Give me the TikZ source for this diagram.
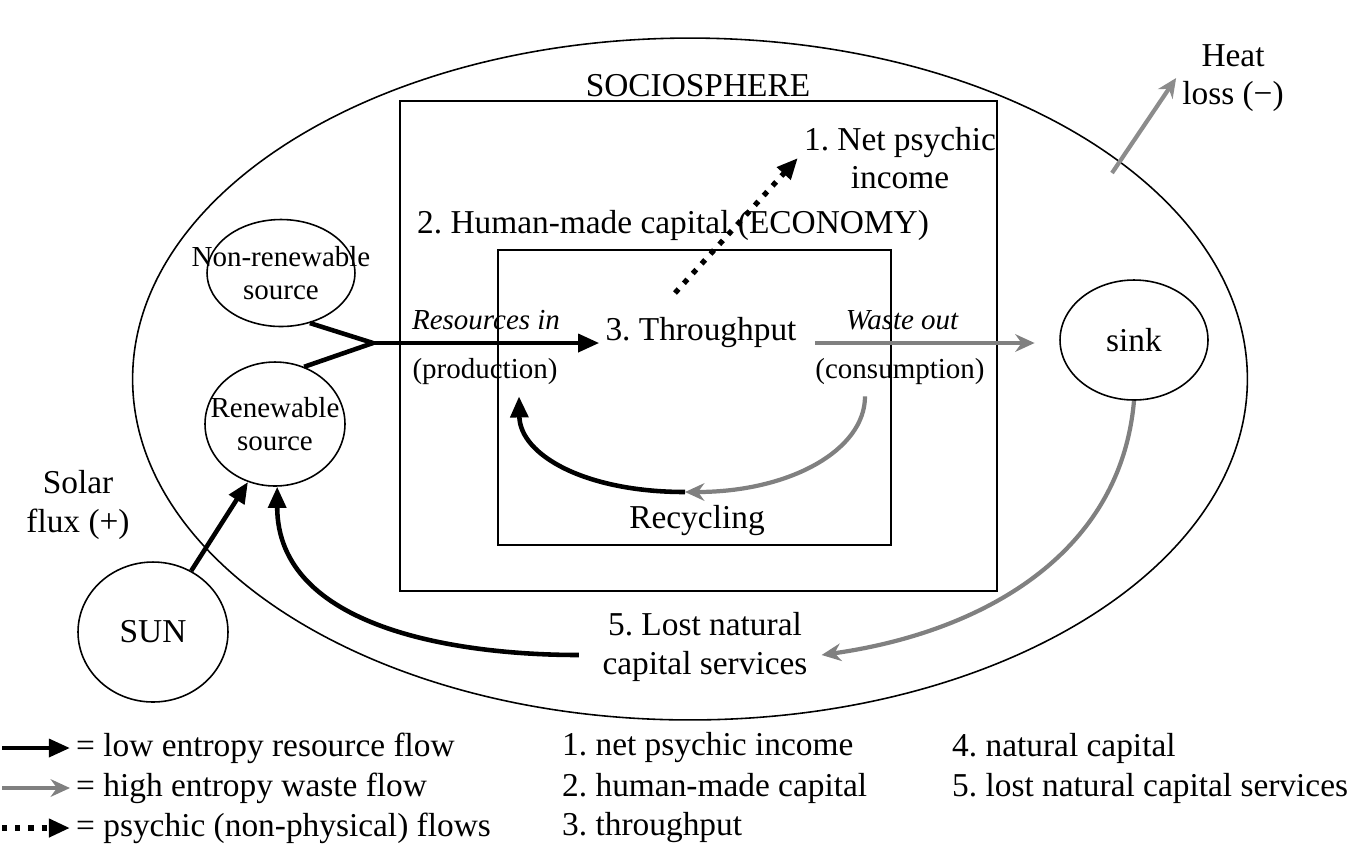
\documentclass[tikz,border=0pt]{standalone}
\usepackage{fontspec}
\setmainfont{Liberation Serif}
\usepackage{tikz}
\usetikzlibrary{arrows.meta,shapes.geometric,positioning}

\tikzset{
  ell/.style={draw, ellipse, line width=0.9pt, inner sep=0pt},
  lbl/.style={font=\fontsize{19}{22}\selectfont, align=center},
  small/.style={font=\fontsize{16.5}{19}\selectfont, align=center},
  ital/.style={font=\fontsize{16.5}{19}\selectfont\itshape},
  legtxt/.style={font=\fontsize{19}{22}\selectfont, anchor=west},
  lowflow/.style={line width=2.6pt, -{Triangle[length=12pt,width=10pt]}},
  highflow/.style={line width=2.4pt, draw=black!50, -{Stealth[length=11pt,width=10pt,fill=black!50]}},
  psychic/.style={line width=3pt, dash pattern=on 3pt off 4.5pt, -{Triangle[length=12pt,width=10pt]}},
  sphere/.style={draw, line width=0.9pt},
}

\begin{document}
\frenchspacing
\begin{tikzpicture}[x=0.02cm, y=-0.02cm]
    \useasboundingbox (0,0) rectangle (1369,850);

    % ecosphere and sociosphere
    \node[ell, minimum width=22.3cm, minimum height=13.64cm] (bio) at (690,379) {};
    \draw[sphere] (400,101) rectangle (997,591);
    \draw[sphere] (498,250) rectangle (891,545);
    \node[lbl] (socio) at (698,86) {SOCIOSPHERE};
    \node[lbl] (npi) at (900,158) {1. Net psychic\\income};
    \node[lbl] (hmc) at (673,225) {2. Human-made capital (ECONOMY)};
    \node[lbl] (tp) at (701,333) {3. Throughput};
    \node[ital] (resin) at (486,320) {Resources in};
    \node[small] (prod) at (485,372) {(production)};
    \node[ital] (wout) at (902,320) {Waste out};
    \node[small] (cons) at (900,372) {(consumption)};
    \node[lbl] (recyc) at (697,521) {Recycling};
    \node[lbl] (lost) at (705,647) {5. Lost natural\\capital services};

    % sources, sink and sun
    \node[ell, minimum width=2.96cm, minimum height=2.14cm] (nonren) at (281,273) {};
    \node[small] (nonrenlbl) at (nonren.center) {Non-renewable\\source};
    \node[ell, minimum width=2.8cm, minimum height=2.48cm] (ren) at (275,424) {};
    \node[small] (renlbl) at (ren.center) {Renewable\\source};
    \node[ell, minimum width=2.96cm, minimum height=2.4cm] (sink) at (1134,340) {};
    \node[lbl] (sinklbl) at (sink.center) {sink};
    \node[ell, minimum width=3cm, minimum height=2.8cm] (sun) at (153,632) {};
    \node[lbl] (sunlbl) at (sun.center) {SUN};
    \node[lbl] (solar) at (78,505) {Solar\\flux (+)};
    \node[lbl] (heat) at (1233,78) {Heat\\loss (−)};

    \coordinate (junc) at (373,343);
    \coordinate (psyfrom) at (675,293);
    \coordinate (rmid) at (685,492);
    \coordinate (heatfrom) at (1112,173);

    % Flow arrows
    \draw[line width=2.6pt] (nonren.-60) -- (junc);
    \draw[line width=2.6pt] (ren.63) -- (junc);
    \draw[lowflow] (junc) -- (tp.west |- junc);
    \draw[highflow, shorten <=7pt, shorten >=14pt] (tp.east |- junc) -- (sink.west |- junc);
    \draw[psychic] (psyfrom) -- (npi.west);
    \draw[highflow] ([xshift=-0.7cm,yshift=-0.1cm]cons.south) .. controls (865,450) and (790,492) .. (rmid);
    \draw[lowflow] (rmid) .. controls (585,492) and (520,455) .. ([xshift=0.68cm,yshift=-0.1cm]prod.south);
    \draw[highflow] (sink.south) to[out=-95, in=8] ([yshift=-0.16cm,xshift=0.16cm]lost.east);
    \draw[lowflow, shorten <=10pt] ([yshift=-0.16cm]lost.west) to[out=180, in=-90] (ren.-88);
    \draw[lowflow] (sun.58) -- (ren.-115);
    \draw[highflow, draw=black!45] (heatfrom) -- (heat.west);

    % legend
    \coordinate (a1) at (2,748);
    \coordinate (a2) at (2,788);
    \coordinate (a3) at (2,828);
    \node[legtxt] (leglow) at (70,748) {= low entropy resource flow};
    \node[legtxt] (leghigh) at (70,788) {= high entropy waste flow};
    \node[legtxt] (legpsy) at (70,828) {= psychic (non-physical) flows};
    \draw[lowflow] (a1) -- (leglow.west);
    \draw[highflow] (a2) -- (leghigh.west);
    \draw[psychic] (a3) -- (legpsy.west);

    \node[legtxt] (k1) at (556,748) {1. net psychic income};
    \node[legtxt] (k2) at (556,788) {2. human-made capital};
    \node[legtxt] (k3) at (556,828) {3. throughput};
    \node[legtxt] (k4) at (946,748) {4. natural capital};
    \node[legtxt] (k5) at (946,788) {5. lost natural capital services};
\end{tikzpicture}
\end{document}
